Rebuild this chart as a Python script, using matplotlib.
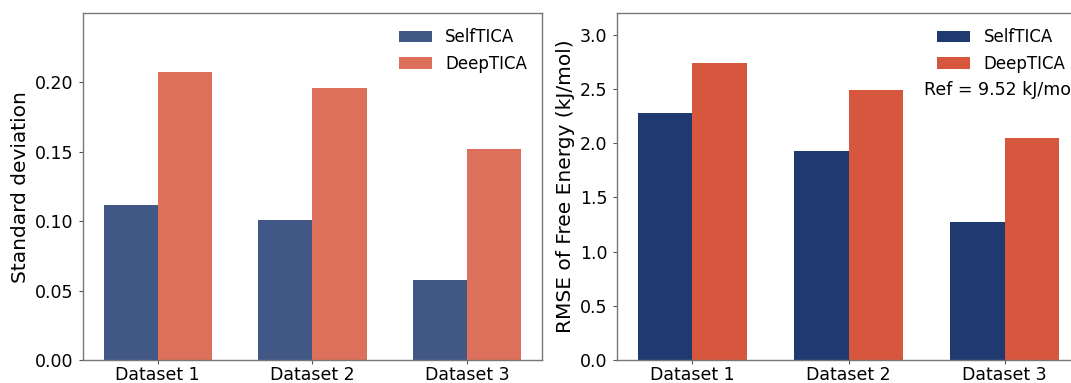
import numpy as np
import matplotlib
matplotlib.use('Agg')
import matplotlib.pyplot as plt

datasets = ['Dataset 1', 'Dataset 2', 'Dataset 3']
methods = ['SelfTICA', 'DeepTICA']

# spread of the learned CVs
std_self = [0.1116, 0.1006, 0.0574]
std_deep = [0.2069, 0.1957, 0.1520]

# free energy error against reference
rmse_self = [2.278, 1.925, 1.271]
rmse_deep = [2.739, 2.493, 2.051]
ref_text = 'Ref = 9.52 kJ/mol'

navy = '#1f3a70'
orange = '#d6573d'
width = 0.35

fig = plt.figure(figsize=(10.71, 3.83), dpi=100)
ax1 = fig.add_axes([0.0772, 0.0601, 0.4291, 0.9052])
ax2 = fig.add_axes([0.5758, 0.0601, 0.4331, 0.9052])

x = np.arange(len(datasets))


def style(ax):
    for s in ax.spines.values():
        s.set_color('#777777')
        s.set_linewidth(1.0)
    ax.tick_params(axis='both', labelsize=12.5, color='#555555', length=3)
    ax.tick_params(axis='x', pad=1.5)
    ax.set_xticks(x)
    ax.set_xticklabels(datasets)


# left: standard deviation
ax1.bar(x - width / 2, std_self, width, color=navy, alpha=0.85, label=methods[0])
ax1.bar(x + width / 2, std_deep, width, color=orange, alpha=0.85, label=methods[1])
ax1.set_ylim(0, 0.2495)
ax1.set_yticks([0.0, 0.05, 0.10, 0.15, 0.20])
ax1.set_ylabel('Standard deviation', fontsize=14.5)
style(ax1)
ax1.legend(frameon=False, fontsize=12, loc='upper right')

# right: RMSE of free energy
ax2.bar(x - width / 2, rmse_self, width, color=navy, label=methods[0])
ax2.bar(x + width / 2, rmse_deep, width, color=orange, label=methods[1])
ax2.set_ylim(0, 3.2)
ax2.set_yticks(np.arange(0, 3.01, 0.5))
ax2.set_ylabel('RMSE of Free Energy (kJ/mol)', fontsize=14.5)
style(ax2)
ax2.legend(frameon=False, fontsize=12, loc='upper right')
ax2.text(0.99, 0.779, ref_text, transform=ax2.transAxes, ha='right', va='center',
         fontsize=12.5)

fig.savefig('out.png', dpi=100)
